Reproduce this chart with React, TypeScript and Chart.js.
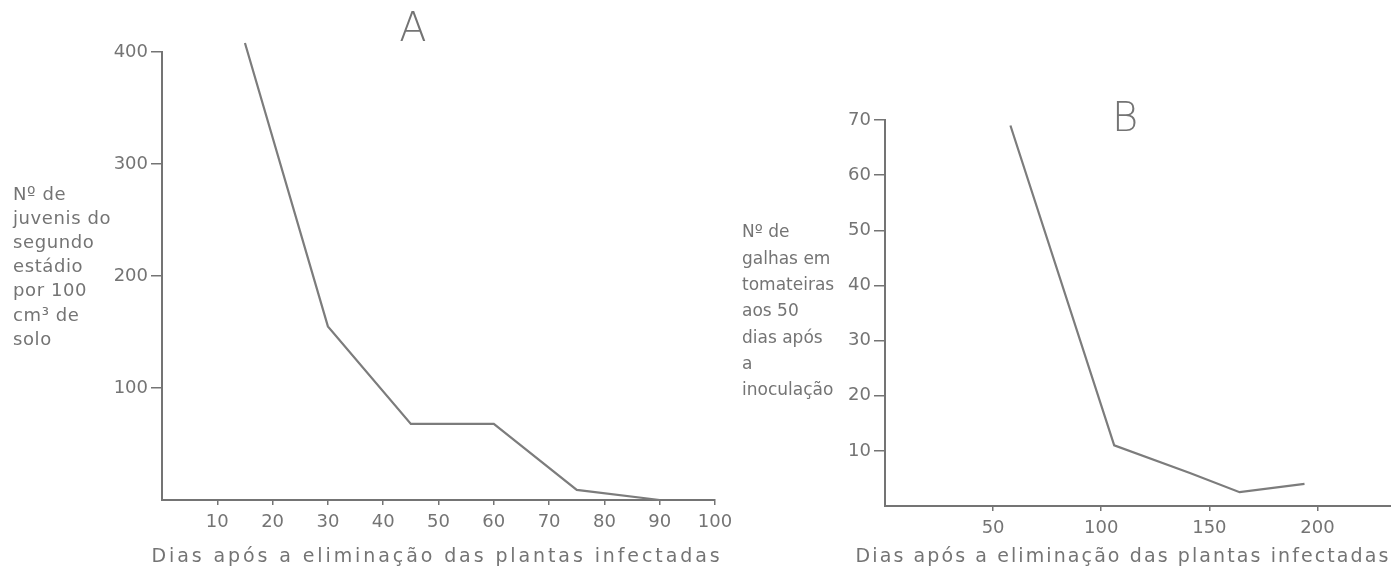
import React, { useEffect, useRef } from "react";
import { Chart, registerables } from "chart.js";

Chart.register(...registerables);

// Panel A data
const daysA = [15, 30, 45, 60, 75, 90];
const juvenis = [408, 155, 68, 68, 9, 0];
const xTicksA = [10, 20, 30, 40, 50, 60, 70, 80, 90, 100];
const yTicksA = [100, 200, 300, 400];
const yTitleA = ["Nº de", "juvenis do", "segundo", "estádio", "por 100", "cm³ de", "solo"];

// Panel B data
const daysB = [58, 106, 141, 164, 194];
const galhas = [69, 11, 6, 2.5, 4];
const xTicksB = [50, 100, 150, 200];
const yTicksB = [10, 20, 30, 40, 50, 60, 70];
const yTitleB = ["Nº de", "galhas em", "tomateiras", "aos 50", "dias após", "a", "inoculação"];

const xTitle = "Dias após a eliminação das plantas infectadas";
const panelA = "A";
const panelB = "B";

const INK = "#747474";
const FONT = "'DejaVu Sans', sans-serif";

type TextItem = { t: string; x: number; y: number; size: number; align?: CanvasTextAlign; spacing?: number; weight?: number };

function textPlugin(items: TextItem[]) {
  return {
    id: "texts",
    afterDraw(chart: any) {
      const ctx = chart.ctx as CanvasRenderingContext2D;
      ctx.save();
      ctx.fillStyle = INK;
      ctx.textBaseline = "middle";
      for (const it of items) {
        ctx.font = `${it.weight ?? 400} ${it.size}px ${FONT}`;
        (ctx as any).letterSpacing = `${it.spacing ?? 0}px`;
        ctx.textAlign = it.align ?? "left";
        ctx.fillText(it.t, it.x, it.y);
      }
      ctx.restore();
    },
  };
}

function makeConfig(opts: {
  xs: number[];
  ys: number[];
  xMax: number;
  yMax: number;
  xTicks: number[];
  yTicks: number[];
  padTop: number;
  padRight: number;
  yWidth: number;
  xHeight: number;
  texts: TextItem[];
  tickSize: number;
}) {
  const data = opts.xs.map((x, i) => ({ x, y: opts.ys[i] }));
  return {
    type: "line" as const,
    data: {
      datasets: [
        {
          data,
          borderColor: "#7c7c7c",
          borderWidth: 2.2,
          pointRadius: 0,
          tension: 0,
          clip: false as any,
        },
      ],
    },
    options: {
      animation: false as const,
      responsive: false,
      maintainAspectRatio: false,
      layout: { padding: { top: opts.padTop, right: opts.padRight, left: 0, bottom: 0 } },
      plugins: { legend: { display: false }, tooltip: { enabled: false }, title: { display: false } },
      scales: {
        x: {
          type: "linear" as const,
          min: 0,
          max: opts.xMax,
          afterFit: (s: any) => {
            s.height = opts.xHeight;
          },
          afterBuildTicks: (s: any) => {
            s.ticks = [0, ...opts.xTicks].map((v) => ({ value: v }));
          },
          border: { display: true, color: INK, width: 2 },
          grid: {
            drawOnChartArea: false,
            drawTicks: true,
            tickLength: 5,
            color: (c: any) => (c.tick && c.tick.value === 0 ? "rgba(0,0,0,0)" : INK),
            lineWidth: 1.5,
          },
          ticks: {
            color: INK,
            padding: 7,
            maxRotation: 0,
            autoSkip: false,
            font: { family: FONT, size: opts.tickSize },
            callback: (v: any) => (v === 0 ? "" : String(v)),
          },
        },
        y: {
          type: "linear" as const,
          min: 0,
          max: opts.yMax,
          afterFit: (s: any) => {
            s.width = opts.yWidth;
          },
          afterBuildTicks: (s: any) => {
            s.ticks = [0, ...opts.yTicks].map((v) => ({ value: v }));
          },
          border: { display: true, color: INK, width: 2 },
          grid: {
            drawOnChartArea: false,
            drawTicks: true,
            tickLength: 11,
            color: (c: any) => (c.tick && c.tick.value === 0 ? "rgba(0,0,0,0)" : INK),
            lineWidth: 1.5,
          },
          ticks: {
            color: INK,
            padding: 3,
            autoSkip: false,
            font: { family: FONT, size: opts.tickSize },
            callback: (v: any) => (v === 0 ? "" : String(v)),
          },
        },
      },
    },
    plugins: [textPlugin(opts.texts)],
  };
}

function Panel(props: { left: number; width: number; config: any }) {
  const ref = useRef<HTMLCanvasElement | null>(null);
  useEffect(() => {
    if (!ref.current) return;
    const chart = new Chart(ref.current, props.config);
    return () => chart.destroy();
  }, []);
  return (
    <canvas
      ref={ref}
      width={props.width}
      height={569}
      style={{ position: "absolute", left: props.left, top: 0, width: props.width, height: 569 }}
    />
  );
}

export default function App() {
  const textsA: TextItem[] = [
    { t: panelA, x: 413, y: 31, size: 40, align: "center" as CanvasTextAlign, weight: 200 },
    ...yTitleA.map((t, i) => ({ t, x: 13, y: 195 + i * 24.2, size: 18, spacing: 0.6 })),
    { t: xTitle, x: 437, y: 557, size: 19, align: "center" as CanvasTextAlign, spacing: 2.9 },
  ];
  const textsB: TextItem[] = [
    { t: panelB, x: 425, y: 121, size: 40, align: "center" as CanvasTextAlign, weight: 200 },
    ...yTitleB.map((t, i) => ({ t, x: 42, y: 233 + i * 26.3, size: 17 })),
    { t: xTitle, x: 423, y: 557, size: 19, align: "center" as CanvasTextAlign, spacing: 2.1 },
  ];
  const cfgA = makeConfig({
    xs: daysA,
    ys: juvenis,
    xMax: 100,
    yMax: 400,
    xTicks: xTicksA,
    yTicks: yTicksA,
    padTop: 52,
    padRight: 25,
    yWidth: 162,
    xHeight: 69,
    texts: textsA,
    tickSize: 18,
  });
  const cfgB = makeConfig({
    xs: daysB,
    ys: galhas,
    xMax: 234,
    yMax: 70,
    xTicks: xTicksB,
    yTicks: yTicksB,
    padTop: 120,
    padRight: 0,
    yWidth: 185,
    xHeight: 63,
    texts: textsB,
    tickSize: 18,
  });
  return (
    <div style={{ position: "absolute", left: 0, top: 0, width: 1391, height: 569, background: "#fff", overflow: "hidden" }}>
      <Panel left={0} width={740} config={cfgA} />
      <Panel left={700} width={691} config={cfgB} />
    </div>
  );
}
